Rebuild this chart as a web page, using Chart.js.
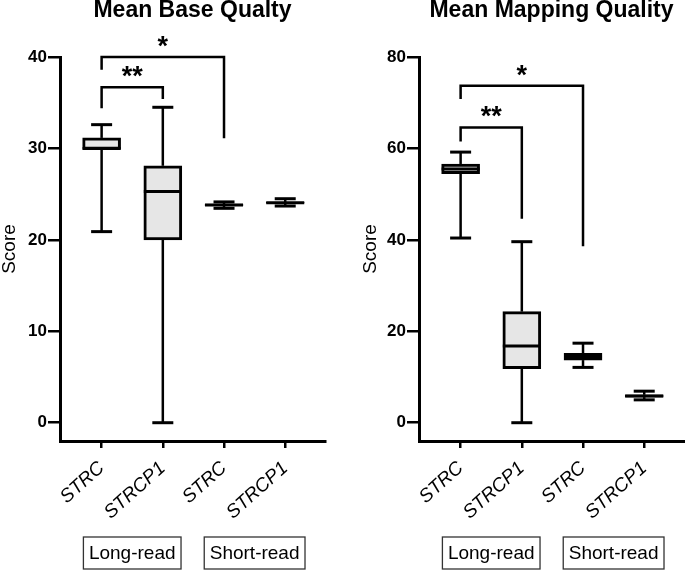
<!DOCTYPE html>
<html><head><meta charset="utf-8">
<script src="https://cdn.jsdelivr.net/npm/chart.js@4"></script>
<style>
html,body{margin:0;padding:0;background:#fff;}
#wrap{position:relative;width:685px;height:573px;overflow:hidden;}
#c1{position:absolute;left:0;top:0;}
#c2{position:absolute;left:340px;top:0;}
</style></head><body>
<div id="wrap"><canvas id="c1" width="340" height="573"></canvas><canvas id="c2" width="345" height="573"></canvas></div>
<script>
// ---- data ----
const categories = ['STRC', 'STRCP1', 'STRC', 'STRCP1'];
const groupLabels = ['Long-read', 'Short-read'];
const groupMembers = [[1, 2], [3, 4]];

const baseTitle = 'Mean Base Qualty';
const baseMin = [20.9, 0.0, 23.45, 23.7];
const baseQ1  = [29.9, 20.0, 23.75, 24.0];
const baseMed = [30.0, 25.3, 23.82, 24.05];
const baseQ3  = [31.15, 28.1, 23.9, 24.1];
const baseMax = [32.6, 34.5, 24.15, 24.5];
const baseTicks = [0, 10, 20, 30, 40];
// brackets: [fromCat, toCat, topValue, leftEndValue, rightEndValue, label]
const baseBrackets = [
  [1, 3, 40.0, 38.6, 31.1, '*'],
  [1, 2, 36.7, 34.4, 35.4, '**']
];

const mapTitle = 'Mean Mapping Quality';
const mapMin = [40.4, 0.0, 12.1, 5.0];
const mapQ1  = [54.5, 11.8, 13.7, 5.6];
const mapMed = [55.5, 16.8, 14.4, 5.85];
const mapQ3  = [56.6, 24.3, 15.2, 6.1];
const mapMax = [59.2, 39.6, 17.4, 6.9];
const mapTicks = [0, 20, 40, 60, 80];
const mapBrackets = [
  [1, 3, 73.7, 70.8, 38.6, '*'],
  [1, 2, 64.6, 61.5, 44.6, '**']
];

const FONT = '"Liberation Sans", Arial, Helvetica, sans-serif';

const boxPlugin = {
  id: 'boxExtras',
  afterDatasetsDraw(chart, args, o) {
    const {ctx} = chart;
    const x = chart.scales.x, y = chart.scales.y;
    ctx.save();
    ctx.strokeStyle = '#000';
    ctx.lineCap = 'butt';
    const line = (x1, y1, x2, y2, w) => {
      ctx.lineWidth = w; ctx.beginPath(); ctx.moveTo(x1, y1); ctx.lineTo(x2, y2); ctx.stroke();
    };
    o.min.forEach((mn, i) => {
      const cx = x.getPixelForValue(i + 1);
      const pMin = y.getPixelForValue(mn), pMax = y.getPixelForValue(o.max[i]);
      const pQ1 = y.getPixelForValue(o.q1[i]), pQ3 = y.getPixelForValue(o.q3[i]);
      const pMed = y.getPixelForValue(o.med[i]);
      line(cx, pQ1, cx, pMin, 2.5);
      line(cx, pQ3, cx, pMax, 2.5);
      line(cx - 10.5, pMin, cx + 10.5, pMin, 3);
      line(cx - 10.5, pMax, cx + 10.5, pMax, 3);
      line(cx - 19, pMed, cx + 19, pMed, 3);
    });
    ctx.lineJoin = 'miter';
    o.brackets.forEach(b => {
      const x1 = x.getPixelForValue(b[0]), x2 = x.getPixelForValue(b[1]);
      const yt = y.getPixelForValue(b[2]);
      ctx.lineWidth = 2.5;
      ctx.beginPath();
      ctx.moveTo(x1, y.getPixelForValue(b[3]));
      ctx.lineTo(x1, yt);
      ctx.lineTo(x2, yt);
      ctx.lineTo(x2, y.getPixelForValue(b[4]));
      ctx.stroke();
      ctx.fillStyle = '#000';
      ctx.font = 'bold 27px ' + FONT;
      ctx.textAlign = 'center';
      ctx.textBaseline = 'alphabetic';
      ctx.fillText(b[5], (x1 + x2) / 2, yt - 2);
    });
    ctx.restore();
  },
  afterDraw(chart, args, o) {
    const {ctx, chartArea} = chart;
    const x = chart.scales.x;
    ctx.save();
    ctx.fillStyle = '#000';
    ctx.font = 'bold 23px ' + FONT;
    ctx.textAlign = 'center';
    ctx.textBaseline = 'middle';
    ctx.fillText(o.title, (chartArea.left + chartArea.right) / 2, 11);
    ctx.font = '19px ' + FONT;
    groupLabels.forEach((g, i) => {
      const m = groupMembers[i];
      const cx = (x.getPixelForValue(m[0]) + x.getPixelForValue(m[1])) / 2;
      const w = ctx.measureText(g).width + 11;
      ctx.strokeStyle = '#333';
      ctx.lineWidth = 1.3;
      ctx.strokeRect(cx - w / 2, 537, w, 32);
      ctx.fillText(g, cx, 554);
    });
    ctx.restore();
  }
};

function makeChart(id, title, mn, q1, med, q3, mx, ticks, yMin, yMax, brackets, padLeft, yWidth, padRight) {
  return new Chart(document.getElementById(id), {
    type: 'bar',
    data: {
      datasets: [{
        data: categories.map((c, i) => ({x: i + 1, y: [q1[i], q3[i]]})),
        backgroundColor: '#e6e6e6',
        borderColor: '#000',
        borderWidth: 3,
        borderSkipped: false,
        barThickness: 38
      }]
    },
    options: {
      responsive: false,
      animation: false,
      layout: {padding: {top: 57, left: padLeft, right: padRight, bottom: 0}},
      plugins: {
        legend: {display: false},
        tooltip: {enabled: false},
        title: {display: false},
        boxExtras: {title, min: mn, q1, med, q3, max: mx, brackets}
      },
      scales: {
        x: {
          type: 'linear', min: 0.32, max: 4.65, offset: false,
          afterBuildTicks: s => { s.ticks = [1, 2, 3, 4].map(v => ({value: v})); },
          afterFit: s => { s.height = 573 - 441; },
          grid: {offset: false, drawOnChartArea: false, drawTicks: true, tickLength: 7, color: '#000', lineWidth: 2.5},
          border: {display: true, color: '#000', width: 3},
          ticks: {
            autoSkip: false, minRotation: 42, maxRotation: 42, padding: 9, color: '#000',
            font: {family: FONT, size: 19, style: 'italic'},
            callback: v => categories[v - 1]
          }
        },
        y: {
          type: 'linear', min: yMin, max: yMax,
          afterBuildTicks: s => { s.ticks = ticks.map(v => ({value: v})); },
          afterFit: s => { s.width = yWidth; },
          grid: {drawOnChartArea: false, drawTicks: true, tickLength: 12, color: '#000', lineWidth: 2.5},
          border: {display: true, color: '#000', width: 3},
          ticks: {padding: 1, color: '#000', font: {family: FONT, size: 17, weight: 'bold'}},
          title: {display: true, text: 'Score', color: '#000', padding: 0,
                  font: {family: FONT, size: 19, lineHeight: 1}}
        }
      }
    },
    plugins: [boxPlugin]
  });
}

makeChart('c1', baseTitle, baseMin, baseQ1, baseMed, baseQ3, baseMax, baseTicks, -2, 40, baseBrackets, 0, 60, 15);
makeChart('c2', mapTitle, mapMin, mapQ1, mapMed, mapQ3, mapMax, mapTicks, -4, 80, mapBrackets, 21, 58, 1);
</script>
</body></html>
